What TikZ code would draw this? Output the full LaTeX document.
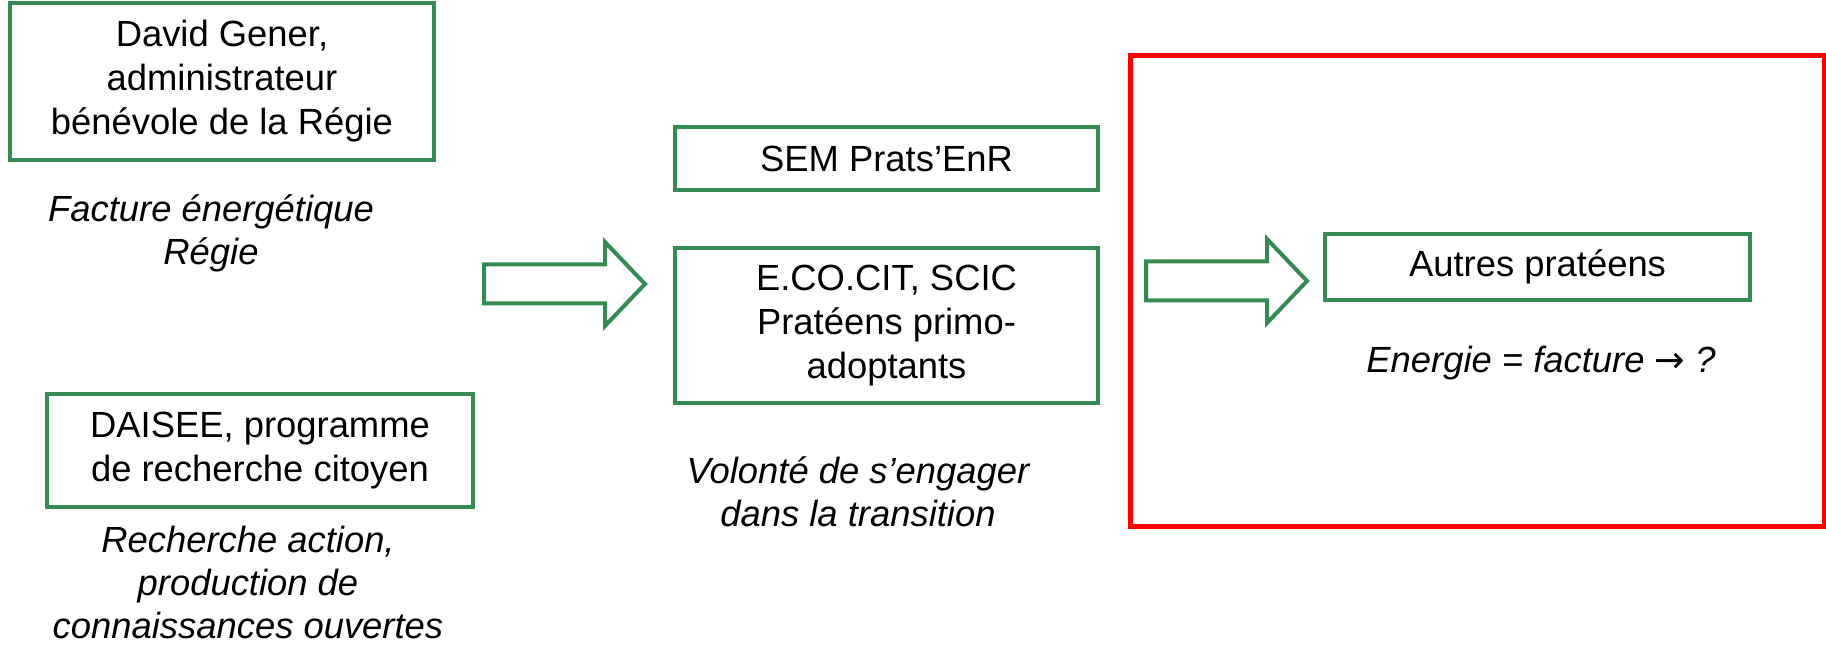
\documentclass[tikz,border=0pt]{standalone}
\usepackage{fontspec}
\setmainfont{Liberation Sans}
\newfontfamily\arrowfont{DejaVu Sans}
\usepackage{xcolor}
\definecolor{boxgreen}{RGB}{52,140,82}
\definecolor{framered}{RGB}{255,0,0}

\tikzset{
  greenbox/.style={draw=boxgreen, line width=2pt, align=center, inner sep=0pt,
    font=\fontsize{18.2}{22}\selectfont},
  remark/.style={align=center, inner sep=0pt, font=\fontsize{18.2}{21.5}\selectfont\itshape},
  bigarrow/.pic={
    \draw [boxgreen, line width=2pt, miter limit=20] (0,-19.5) -- (121,-19.5) -- (121,-42) -- (161,0) -- (121,42) -- (121,19.5) -- (0,19.5) -- cycle ;
  }
}

\begin{document}
\begin{tikzpicture}[x=0.5pt,y=0.5pt,yscale=-1,xscale=1]
\useasboundingbox (0,0) rectangle (1826,646); %set diagram to the reference size

%Shape: Rectangle (red frame)
\draw [framered, line width=2.5pt] (1130,56) rectangle (1824,526) ;

% Text Node
\node [greenbox, minimum width=212pt, minimum height=78.5pt] (gener) at (222,81.5) {David Gener,\\administrateur\\bénévole de la Régie};
% Text Node
\node [remark] (facture) at (211,233) {Facture énergétique\\Régie};
% Text Node
\node [greenbox, minimum width=213pt, minimum height=56.5pt] (daisee) at (260,450.5) {DAISEE, programme\\de recherche citoyen};
% Text Node
\node [remark] (recherche) at (248,582) {Recherche action,\\production de\\connaissances ouvertes};

%Right Arrow
\pic (flecheA) at (484,284) {bigarrow};

% Text Node
\node [greenbox, minimum width=211.5pt, minimum height=31.5pt] (sem) at (886.5,158.5) {SEM Prats’EnR};
% Text Node
\node [greenbox, minimum width=211.5pt, minimum height=77.5pt] (ecocit) at (886.5,325.5) {E.CO.CIT, SCIC\\Pratéens primo-\\adoptants};
% Text Node
\node [remark] (volonte) at (858,492) {Volonté de s’engager\\dans la transition};

%Right Arrow
\pic (flecheB) at (1146,281) {bigarrow};

% Text Node
\node [greenbox, minimum width=212.5pt, minimum height=33pt] (autres) at (1537.5,267) {Autres pratéens};
% Text Node
\node [remark] (energie) at (1541,363) {Energie = facture {\arrowfont\upshape →} ?};

\end{tikzpicture}
\end{document}
